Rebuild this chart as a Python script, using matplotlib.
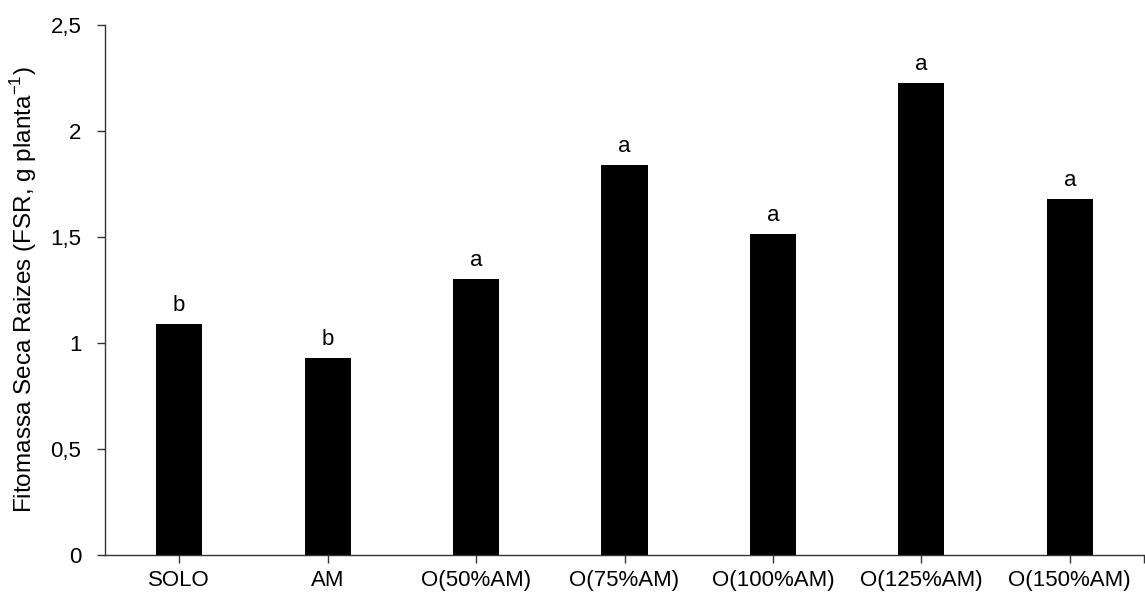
import matplotlib
matplotlib.use("Agg")
import matplotlib.pyplot as plt
from matplotlib.ticker import FuncFormatter, FixedLocator

categories = ["SOLO", "AM", "O(50%AM)", "O(75%AM)", "O(100%AM)", "O(125%AM)", "O(150%AM)"]
values = [1.09, 0.93, 1.30, 1.84, 1.513, 2.225, 1.677]
letters = ["b", "b", "a", "a", "a", "a", "a"]
yticks = [0, 0.5, 1.0, 1.5, 2.0, 2.5]

plt.rcParams['font.family'] = ['Liberation Sans', 'DejaVu Sans']

fig = plt.figure(figsize=(11.45, 5.96), dpi=100)
ax = fig.add_axes([105/1145, 41/596, (1144-105)/1145, 530/596])

x = list(range(len(categories)))
ax.bar(x, values, width=0.31, color="black")
for xi, v, l in zip(x, values, letters):
    ax.annotate(l, (xi, v), xytext=(0, 6), textcoords="offset points",
                ha="center", va="bottom", fontsize=16)

ax.set_xlim(-0.5, 6.5)
ax.set_ylim(0, 2.5)
ax.set_yticks(yticks)
ax.yaxis.set_major_formatter(FuncFormatter(lambda v, p: ("%g" % v).replace(".", ",")))
ax.set_xticks(x)
ax.set_xticklabels(categories)
ax.xaxis.set_minor_locator(FixedLocator([6.5]))
ax.tick_params(axis="both", direction="out", length=6, width=1, colors="#333333",
               labelcolor="black", labelsize=16)
ax.tick_params(axis="x", which="minor", direction="out", length=6, width=1, colors="#333333")
ax.tick_params(axis="x", pad=5)
ax.tick_params(axis="y", pad=11)
for s in ["top", "right"]:
    ax.spines[s].set_visible(False)
for s in ["left", "bottom"]:
    ax.spines[s].set_linewidth(1)
    ax.spines[s].set_color("#333333")

fig.text(24/1145, 1 - 290/596,
         "Fitomassa Seca Raizes (FSR, g planta$^{\\mathregular{-1}}$)",
         rotation=90, ha="center", va="center", fontsize=17.5)

fig.savefig("out.png", dpi=100)
